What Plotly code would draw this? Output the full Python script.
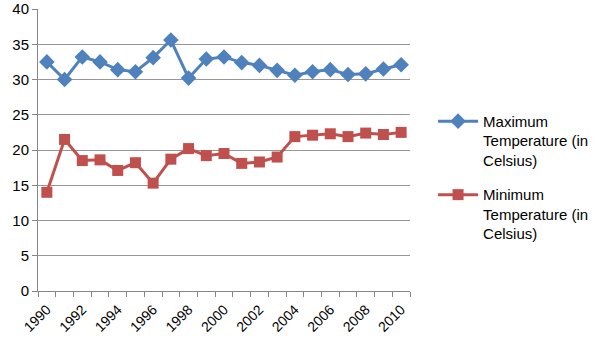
import plotly.graph_objects as go

years = [str(y) for y in range(1990, 2011)]
max_temp = [32.5, 30.0, 33.2, 32.5, 31.4, 31.1, 33.1, 35.6, 30.2, 32.9, 33.2,
            32.4, 32.0, 31.3, 30.6, 31.1, 31.4, 30.7, 30.8, 31.5, 32.1]
min_temp = [14.0, 21.5, 18.5, 18.6, 17.1, 18.2, 15.3, 18.7, 20.2, 19.2, 19.5,
            18.1, 18.3, 19.0, 21.9, 22.1, 22.3, 21.9, 22.4, 22.2, 22.5]
tick_text = [y if i % 2 == 0 else "" for i, y in enumerate(years)]

FONT = "Liberation Sans"

fig = go.Figure()
fig.add_trace(go.Scatter(
    x=years, y=max_temp, mode="lines+markers",
    name="Maximum<br>Temperature (in<br>Celsius)", legendgroup="a",
    line=dict(color="#4F81BD", width=3),
    marker=dict(symbol="diamond", size=12, color="#4F81BD"),
))
fig.add_trace(go.Scatter(
    x=years, y=min_temp, mode="lines+markers",
    name="Minimum<br>Temperature (in<br>Celsius)", legendgroup="b",
    line=dict(color="#C0504D", width=3),
    marker=dict(symbol="square", size=11, color="#C0504D"),
))

fig.update_layout(
    width=600, height=355,
    margin=dict(l=38, r=190, t=9, b=64, autoexpand=False),
    paper_bgcolor="white", plot_bgcolor="white",
    font=dict(family=FONT, size=14, color="#000000"),
    legend=dict(x=1.062, y=0.66, xanchor="left", yanchor="top",
                font=dict(family=FONT, size=15, color="#000000"),
                tracegroupgap=12, itemwidth=40, valign="top",
                bgcolor="rgba(0,0,0,0)"),
    showlegend=True,
)
fig.update_xaxes(
    type="category", tickmode="array", tickvals=years, ticktext=tick_text,
    range=[-0.5, len(years) - 0.5],
    tickson="boundaries", ticks="outside", ticklen=5, tickcolor="#868686",
    showline=True, linecolor="#868686", linewidth=1, showgrid=False,
    tickangle=-45, tickfont=dict(family=FONT, size=14), automargin=False,
    ticklabelstandoff=4,
)
fig.update_yaxes(
    range=[0, 40], dtick=5, ticks="outside", ticklen=5, tickcolor="#868686",
    showline=True, linecolor="#868686", linewidth=1,
    showgrid=True, gridcolor="#969696", gridwidth=1, zeroline=False,
    tickfont=dict(family=FONT, size=15), automargin=False,
)

fig.write_html(
    "out.html",
    config={"displayModeBar": False},
    post_script="document.body.style.margin='0';document.body.style.overflow='hidden';",
)
